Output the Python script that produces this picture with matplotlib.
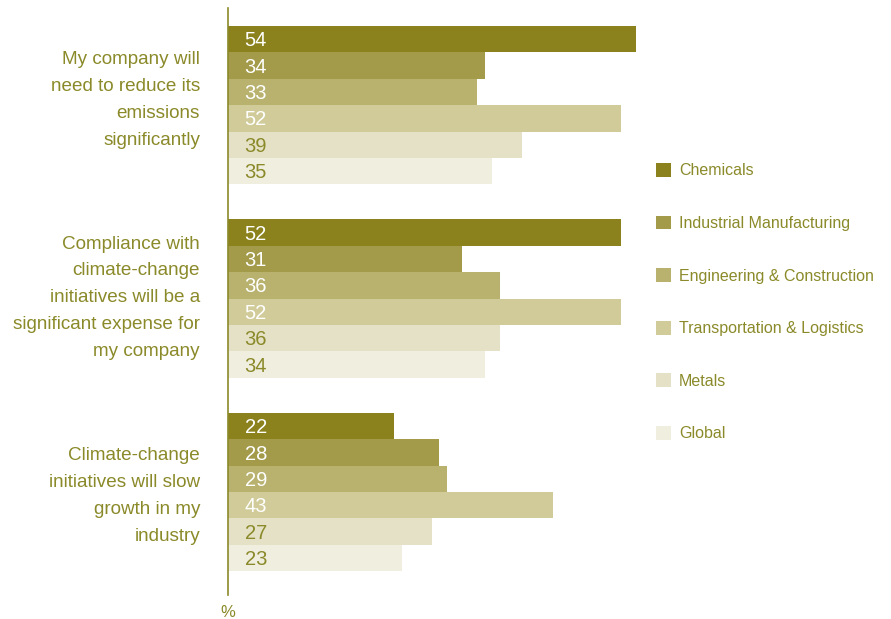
import matplotlib.pyplot as plt
from matplotlib.patches import Patch

plt.rcParams['font.family'] = ['Liberation Sans', 'DejaVu Sans']

questions = [
    'My company will\nneed to reduce its\nemissions\nsignificantly',
    'Compliance with\nclimate-change\ninitiatives will be a\nsignificant expense for\nmy company',
    'Climate-change\ninitiatives will slow\ngrowth in my\nindustry',
]
sectors = ['Chemicals', 'Industrial Manufacturing', 'Engineering & Construction',
           'Transportation & Logistics', 'Metals', 'Global']
chemicals = [54, 52, 22]
industrial = [34, 31, 28]
engineering = [33, 36, 29]
transport = [52, 52, 43]
metals = [39, 36, 27]
global_ = [35, 34, 23]
series = [chemicals, industrial, engineering, transport, metals, global_]

colors = ['#8b821e', '#a39a4a', '#b8b26e', '#d0cb98', '#e5e1c6', '#f0eedf']
label_colors = ['white', 'white', 'white', 'white', '#8b8a2a', '#8b8a2a']
text_color = '#8b8a2a'

fig = plt.figure(figsize=(8.91, 6.19), dpi=100)
ax = fig.add_axes([228 / 891, 1 - 595 / 619, 453 / 891, 587 / 619])

stride = 7.33
for s, vals in enumerate(series):
    for g, v in enumerate(vals):
        y = g * stride + s
        ax.barh(y, v, height=1.0, color=colors[s], linewidth=0)
        ax.text(2.2, y + 0.06, str(v), va='center', ha='left',
                fontsize=14.5, color=label_colors[s])

for g, q in enumerate(questions):
    ax.text(-3.7, g * (stride + 0.17) + 2.3, q, ha='right', va='center',
            fontsize=13.6, color=text_color, linespacing=1.76)

ax.set_xlim(0, 60)
ax.set_ylim(2 * stride + 5 + 0.5 + 0.9, -1.18)
for side in ['top', 'right', 'bottom']:
    ax.spines[side].set_visible(False)
ax.spines['left'].set_color('#8b8a2a')
ax.spines['left'].set_linewidth(1.2)
ax.set_xticks([])
ax.set_yticks([])
ax.text(0, -0.017, '%', transform=ax.transAxes, ha='center', va='top',
        fontsize=12, color=text_color)

handles = [Patch(facecolor=c, edgecolor='none') for c in colors]
fig.legend(handles, sectors, loc='upper left',
           bbox_to_anchor=(656 / 891, 1 - 163 / 619), frameon=False,
           fontsize=11.5, labelcolor=text_color, labelspacing=2.33,
           handlelength=0.95, handleheight=0.95, handletextpad=0.5,
           borderpad=0, borderaxespad=0)

fig.savefig('out.png', dpi=100)
